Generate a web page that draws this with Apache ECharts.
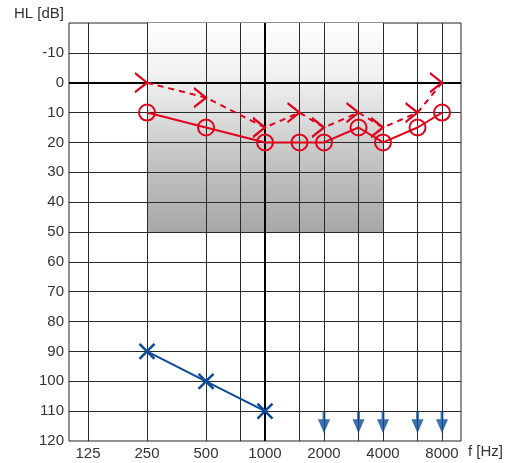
<!DOCTYPE html>
<html><head><meta charset="utf-8">
<script src="https://cdn.jsdelivr.net/npm/echarts@6/dist/echarts.min.js"></script>
<style>html,body{margin:0;padding:0;background:#fff}#c{width:521px;height:463px}</style>
</head><body><div id="c"></div>
<script>
// Frequency tick labels (Hz) and all vertical grid frequencies
const freqLabels = [125, 250, 500, 1000, 2000, 4000, 8000];
const gridFreqs = [125, 250, 500, 750, 1500, 2000, 3000, 4000, 6000, 8000];
const thickFreqs = [1000];
const fMin = 100, fMax = 10000;
// Hearing level range (dB) and horizontal grid levels
const dbMin = -20, dbMax = 120, dbStep = 10;
const gridDb = [-10, 10, 20, 30, 40, 50, 60, 70, 80, 90, 100, 110];
const thickDb = [0];

// Right ear air conduction (circles, solid red)
const rightAcFreq = [250, 500, 1000, 1500, 2000, 3000, 4000, 6000, 8000];
const rightAcDb   = [10, 15, 20, 20, 20, 15, 20, 15, 10];
// Right ear bone conduction (">" symbols, dashed red)
const rightBcFreq = [250, 500, 1000, 1500, 2000, 3000, 4000, 6000, 8000];
const rightBcDb   = [0, 5, 15, 10, 15, 10, 15, 10, 0];
// Left ear air conduction (crosses, solid blue)
const leftAcFreq = [250, 500, 1000];
const leftAcDb   = [90, 100, 110];
// Left ear no response (arrows)
const leftNrFreq = [2000, 3000, 4000, 6000, 8000];
const leftNrDb   = [110, 110, 110, 110, 110];
// Normal speech area shading
const shadeFreq = [250, 4000];
const shadeDb = [-20, 50];

const RED = '#e2001a', BLUE = '#0a4b9b', GRID = '#2a2a2a';
const FONT = 'Liberation Sans';
const zip = (a, b) => a.map((v, i) => [v, b[i]]);
const thick = { color: '#000', width: 2, type: 'solid' };
const vLine = (f, style) => { const l = [{ coord: [f, dbMin] }, { coord: [f, dbMax] }]; if (style) l[0].lineStyle = style; return l; };
const hLine = (d, style) => { const l = [{ coord: [fMin, d] }, { coord: [fMax, d] }]; if (style) l[0].lineStyle = style; return l; };

const chart = echarts.init(document.getElementById('c'));
chart.setOption({
  animation: false,
  backgroundColor: '#fff',
  grid: { left: 69, right: 60, top: 23, bottom: 22, show: true, borderColor: '#222', borderWidth: 1, backgroundColor: 'transparent' },
  xAxis: {
    type: 'log', logBase: 10, min: fMin, max: fMax,
    axisLine: { show: false },
    axisTick: { show: false },
    splitLine: { show: false },
    minorSplitLine: { show: false },
    axisLabel: { customValues: freqLabels, color: '#333', fontFamily: FONT, fontSize: 15, margin: 5,
      formatter: v => String(Math.round(v)) }
  },
  yAxis: {
    type: 'value', inverse: true, min: dbMin, max: dbMax, interval: dbStep,
    axisLine: { show: false }, axisTick: { show: false },
    splitLine: { show: false },
    axisLabel: { color: '#333', fontFamily: FONT, fontSize: 15, margin: 5,
      formatter: v => (v === dbMin ? '' : String(v)) }
  },
  graphic: [
    { type: 'text', left: 14, top: 6, style: { text: 'HL [dB]', fill: '#333', font: '15px "Liberation Sans"' } },
    { type: 'text', left: 468, top: 444, style: { text: 'f [Hz]', fill: '#333', font: '15px "Liberation Sans"' } }
  ],
  series: [
    {
      type: 'line', data: [], z: 0, zlevel: 0, silent: true,
      markArea: {
        silent: true,
        itemStyle: { color: { type: 'linear', x: 0, y: 0, x2: 0, y2: 1, colorStops: [
          { offset: 0, color: '#fefefe' }, { offset: 0.25, color: '#f1f1f1' },
          { offset: 0.45, color: '#dddddd' }, { offset: 0.65, color: '#c4c4c4' },
          { offset: 1, color: '#a8a8a8' } ] } },
        data: [[{ coord: [shadeFreq[0], shadeDb[0]] }, { coord: [shadeFreq[1], shadeDb[1]] }]]
      }
    },
    {
      type: 'line', data: [], z: 3, zlevel: 1, silent: true,
      markLine: {
        silent: true, symbol: 'none', label: { show: false },
        lineStyle: { color: GRID, width: 1, type: 'solid' },
        data: gridFreqs.map(f => vLine(f))
          .concat(gridDb.map(d => hLine(d)))
          .concat(thickFreqs.map(f => vLine(f, thick)))
          .concat(thickDb.map(d => hLine(d, thick)))
      }
    },
    {
      name: 'Right AC', type: 'line', z: 5, zlevel: 2, data: zip(rightAcFreq, rightAcDb),
      symbol: 'circle', symbolSize: 16, showAllSymbol: true,
      itemStyle: { color: 'rgba(0,0,0,0)', borderColor: RED, borderWidth: 2 },
      lineStyle: { color: RED, width: 2 }
    },
    {
      name: 'Right BC', type: 'line', z: 5, zlevel: 2, data: zip(rightBcFreq, rightBcDb),
      symbol: 'path://M0,0L12,9.5L0,19', symbolSize: [12, 19], symbolOffset: [-6, 0], showAllSymbol: true,
      itemStyle: { color: 'rgba(0,0,0,0)', borderColor: RED, borderWidth: 2 },
      lineStyle: { color: RED, width: 2, type: [6, 5] }
    },
    {
      name: 'Left AC', type: 'line', z: 5, zlevel: 2, data: zip(leftAcFreq, leftAcDb),
      symbol: 'path://M0,0L14,14M14,0L0,14', symbolSize: 15, showAllSymbol: true,
      itemStyle: { color: 'rgba(0,0,0,0)', borderColor: BLUE, borderWidth: 2.5 },
      lineStyle: { color: BLUE, width: 2 }
    },
    {
      name: 'Left NR', type: 'scatter', z: 5, zlevel: 2, data: zip(leftNrFreq, leftNrDb),
      symbol: 'path://M4.6,0L7.4,0L7.4,8L12,8L6,22L0,8L4.6,8Z', symbolSize: [12, 22], symbolOffset: [0, 11],
      itemStyle: { color: BLUE }
    }
  ]
});
</script></body></html>
